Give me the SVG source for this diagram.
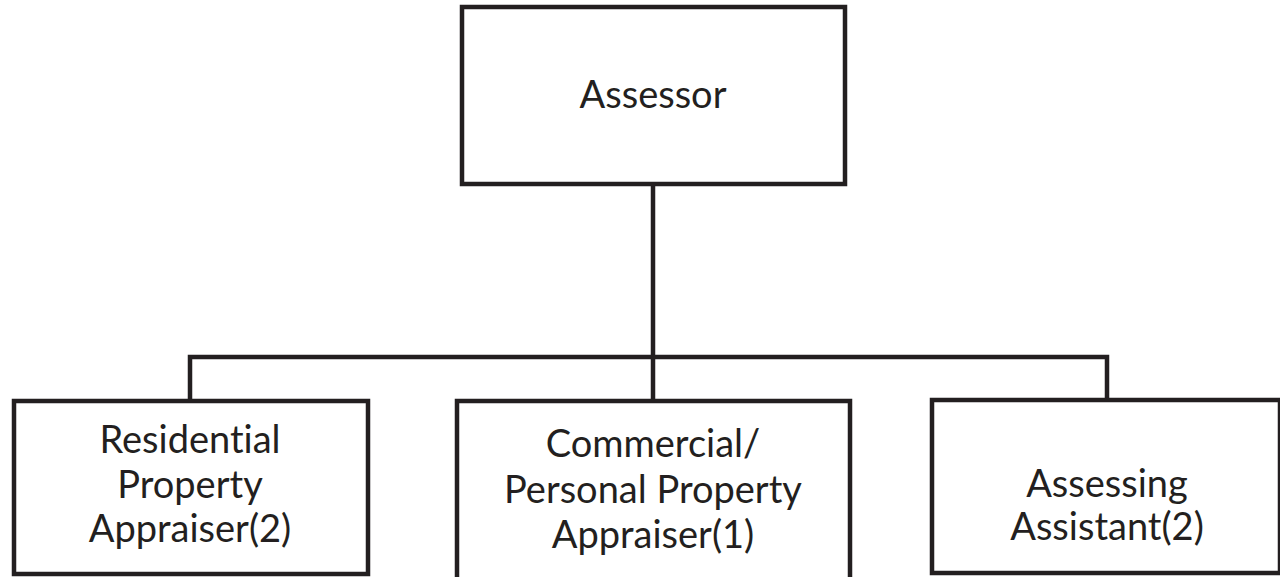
<svg xmlns="http://www.w3.org/2000/svg" width="1280" height="577" viewBox="0 0 1280 577">
<style>
.box{fill:#ffffff;stroke:#231f20;stroke-width:4.5}
.ln{fill:none;stroke:#231f20;stroke-width:4.5}
.t{font-family:Lato,"Open Sans",sans-serif;font-size:38px;fill:#231f20;text-anchor:middle;font-variant-ligatures:none}
</style>
<rect width="1280" height="577" fill="#ffffff"/>
<g id="connectors">
<line class="ln" x1="653" y1="184" x2="653" y2="401"/>
<polyline class="ln" points="190,401 190,357 1107,357 1107,401"/>
</g>
<g id="assessor">
<rect class="box" x="462" y="7" width="383" height="177"/>
<text class="t" x="653" y="108">Assessor</text>
</g>
<g id="residential">
<rect class="box" x="14" y="401" width="354" height="173"/>
<text class="t" x="190" y="453">Residential</text>
<text class="t" x="190" y="498">Property</text>
<text class="t" x="190" y="542">Appraiser(2)</text>
</g>
<g id="commercial">
<rect class="box" x="457" y="401" width="393" height="190"/>
<text class="t" x="653" y="457">Commercial/</text>
<text class="t" x="653" y="503">Personal Property</text>
<text class="t" x="653" y="548">Appraiser(1)</text>
</g>
<g id="assistant">
<rect class="box" x="932" y="400" width="348" height="173"/>
<text class="t" x="1107" y="497">Assessing</text>
<text class="t" x="1107" y="540">Assistant(2)</text>
</g>
</svg>
